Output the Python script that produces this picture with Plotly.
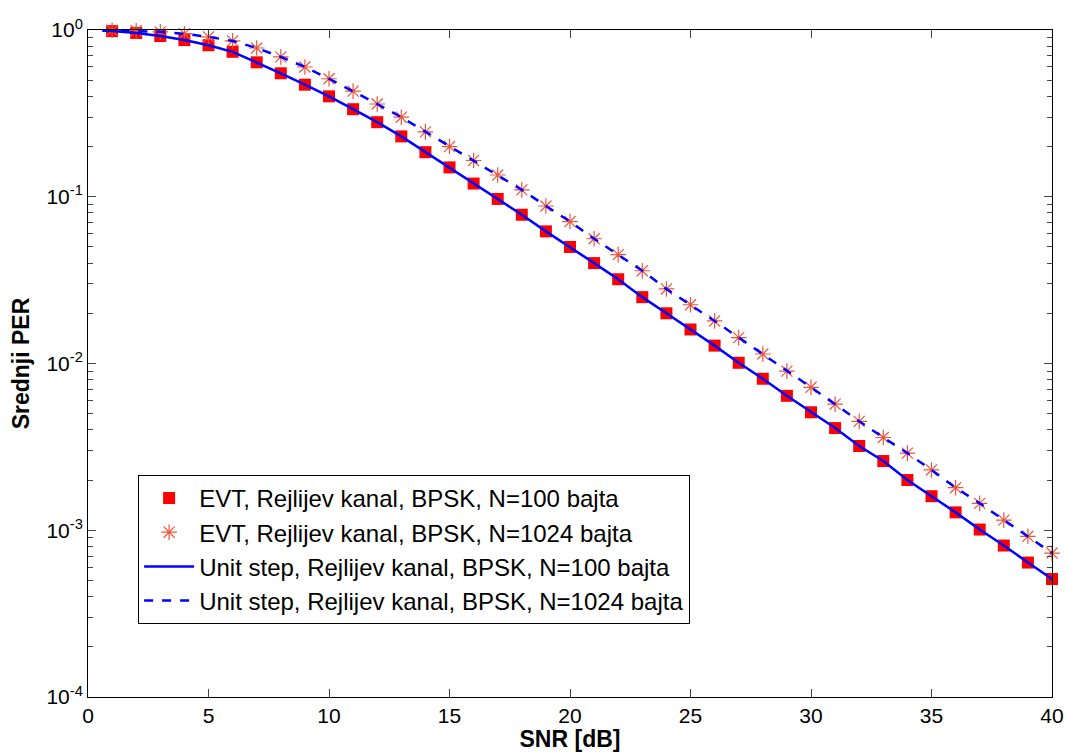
import plotly.graph_objects as go

snr = list(range(1, 41))
per_evt_100 = [0.985, 0.96, 0.92, 0.87, 0.81, 0.74, 0.64, 0.55, 0.47, 0.40,
               0.335, 0.28, 0.23, 0.185, 0.15, 0.12, 0.097, 0.078, 0.062, 0.050,
               0.040, 0.032, 0.025, 0.020, 0.016, 0.0128, 0.0101, 0.0081, 0.0064, 0.0051,
               0.0041, 0.0032, 0.0026, 0.0020, 0.0016, 0.00128, 0.00101, 0.00081, 0.00064, 0.00051]
per_evt_1024 = [0.995, 0.99, 0.975, 0.95, 0.91, 0.86, 0.78, 0.69, 0.60, 0.51,
                0.43, 0.36, 0.30, 0.245, 0.20, 0.165, 0.135, 0.11, 0.088, 0.071,
                0.056, 0.045, 0.036, 0.028, 0.0225, 0.018, 0.0143, 0.0114, 0.0090, 0.0072,
                0.0057, 0.0045, 0.0036, 0.0029, 0.0023, 0.0018, 0.00145, 0.00115, 0.00092, 0.00073]

snr_line = [0.6] + snr
per_us_100 = [0.99] + per_evt_100
per_us_1024 = [0.998] + per_evt_1024

x_ticks = [0, 5, 10, 15, 20, 25, 30, 35, 40]
y_ticks = [1e-4, 1e-3, 1e-2, 1e-1, 1]
y_ticktext = ["10<sup>-4</sup>", "10<sup>-3</sup>", "10<sup>-2</sup>", "10<sup>-1</sup>", "10<sup>0</sup>"]
y_minor = [m * d for d in y_ticks[:-1] for m in range(2, 10)]

FONT = "Liberation Sans, Arial, sans-serif"

fig = go.Figure()
fig.add_trace(go.Scatter(x=snr, y=per_evt_100, mode="markers", cliponaxis=False,
                         name="EVT, Rejlijev kanal, BPSK, N=100 bajta",
                         marker=dict(symbol="square", size=12, color="#ff0000",
                                     line=dict(width=0))))
fig.add_trace(go.Scatter(x=snr, y=per_evt_1024, mode="markers", cliponaxis=False,
                         name="EVT, Rejlijev kanal, BPSK, N=1024 bajta",
                         marker=dict(symbol="asterisk-open", size=13,
                                     line=dict(width=1.2, color="#d42a3a"))))
fig.add_trace(go.Scatter(x=snr_line, y=per_us_100, mode="lines",
                         name="Unit step, Rejlijev kanal, BPSK, N=100 bajta",
                         line=dict(color="#0000ff", width=2.5)))
fig.add_trace(go.Scatter(x=snr_line, y=per_us_1024, mode="lines",
                         name="Unit step, Rejlijev kanal, BPSK, N=1024 bajta",
                         line=dict(color="#0000ff", width=2.5, dash="dash")))

tick_font = dict(family=FONT, size=21, color="black")
title_font = dict(family=FONT, size=23, color="black")

fig.update_layout(
    width=1067, height=752,
    margin=dict(l=88, r=15, t=30, b=55),
    paper_bgcolor="white", plot_bgcolor="white",
    font=dict(family=FONT, size=20, color="black"),
    showlegend=True,
    legend=dict(x=0.052, y=0.333, xanchor="left", yanchor="top",
                bgcolor="white", bordercolor="black", borderwidth=1,
                font=dict(family=FONT, size=24, color="black"),
                itemwidth=50, tracegroupgap=0),
    xaxis=dict(range=[0, 40], tickvals=x_ticks, ticks="inside", ticklen=8,
               showline=True, linecolor="black", linewidth=1, mirror="ticks",
               showgrid=False, zeroline=False, tickfont=tick_font, automargin=False,
               title=dict(text="<b>SNR [dB]</b>", font=title_font, standoff=0)),
    yaxis=dict(type="log", range=[-4, 0], tickvals=y_ticks, ticktext=y_ticktext,
               ticks="inside", ticklen=8,
               minor=dict(tickvals=y_minor, ticks="inside", ticklen=5, showgrid=False),
               showline=True, linecolor="black", linewidth=1, mirror="ticks",
               showgrid=False, zeroline=False, tickfont=tick_font, automargin=False,
               title=dict(text="<b>Srednji PER</b>", font=title_font, standoff=10)),
)

fig.write_html("out.html")
